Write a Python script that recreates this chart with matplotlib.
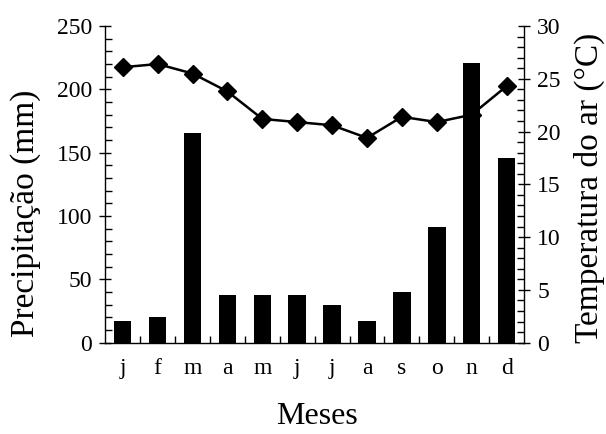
import matplotlib
matplotlib.use("Agg")
import matplotlib.pyplot as plt
import numpy as np
from matplotlib.ticker import MultipleLocator, FixedLocator

plt.rcParams['font.family'] = ['Liberation Serif', 'DejaVu Serif']

months = ['j', 'f', 'm', 'a', 'm', 'j', 'j', 'a', 's', 'o', 'n', 'd']
precip = [17.5, 20, 165.5, 37.5, 37.5, 37.5, 30, 17.5, 40, 91, 221, 145.5]
temp = [26.1, 26.4, 25.5, 23.8, 21.2, 20.9, 20.6, 19.4, 21.4, 20.9, 21.6, 24.3]

fig = plt.figure(figsize=(6.06, 4.34), dpi=100)
ax = fig.add_axes([0.1738, 0.2104, 0.6909, 0.7296])
x = np.arange(len(months))

ax.bar(x, precip, width=0.5, color='black', zorder=2)
ax.set_xlim(-0.5, len(months) - 0.5)
ax.set_ylim(0, 250)
ax.yaxis.set_major_locator(MultipleLocator(50))
ax.yaxis.set_minor_locator(MultipleLocator(10))
ax.set_xticks(x)
ax.set_xticklabels(months)
ax.xaxis.set_minor_locator(FixedLocator(np.arange(0.5, len(months) - 1, 1.0)))
ax.tick_params(axis='x', which='major', length=0, pad=11, labelsize=17)
ax.tick_params(axis='x', which='minor', direction='in', length=5, width=1)
ax.tick_params(axis='y', which='major', direction='inout', length=9, width=1, pad=5, labelsize=17)
ax.tick_params(axis='y', which='minor', direction='in', length=5, width=1)
ax.spines['top'].set_visible(False)
ax.spines['right'].set_visible(False)
for s in ['left', 'bottom']:
    ax.spines[s].set_linewidth(1)

ax2 = ax.twinx()
ax2.plot(x, temp, color='black', lw=1.8, marker='D', markersize=9.5, zorder=3)
ax2.set_ylim(0, 30)
ax2.yaxis.set_major_locator(MultipleLocator(5))
ax2.yaxis.set_minor_locator(MultipleLocator(1))
ax2.tick_params(axis='y', which='major', direction='inout', length=9, width=1, pad=5, labelsize=17)
ax2.tick_params(axis='y', which='minor', direction='in', length=5, width=1)
ax2.spines['top'].set_visible(False)
ax2.spines['left'].set_visible(False)
ax2.spines['bottom'].set_visible(False)
ax2.spines['right'].set_linewidth(1)

fig.text(25.5 / 606, 1 - 213 / 434, 'Precipitação (mm)', rotation=90,
         ha='center', va='center', fontsize=24)
fig.text(589.5 / 606, 1 - 187.5 / 434, 'Temperatura do ar (°C)', rotation=90,
         ha='center', va='center', fontsize=24)
fig.text(317 / 606, 1 - 416 / 434, 'Meses', ha='center', va='center', fontsize=23)

fig.savefig('out.png', dpi=100)
